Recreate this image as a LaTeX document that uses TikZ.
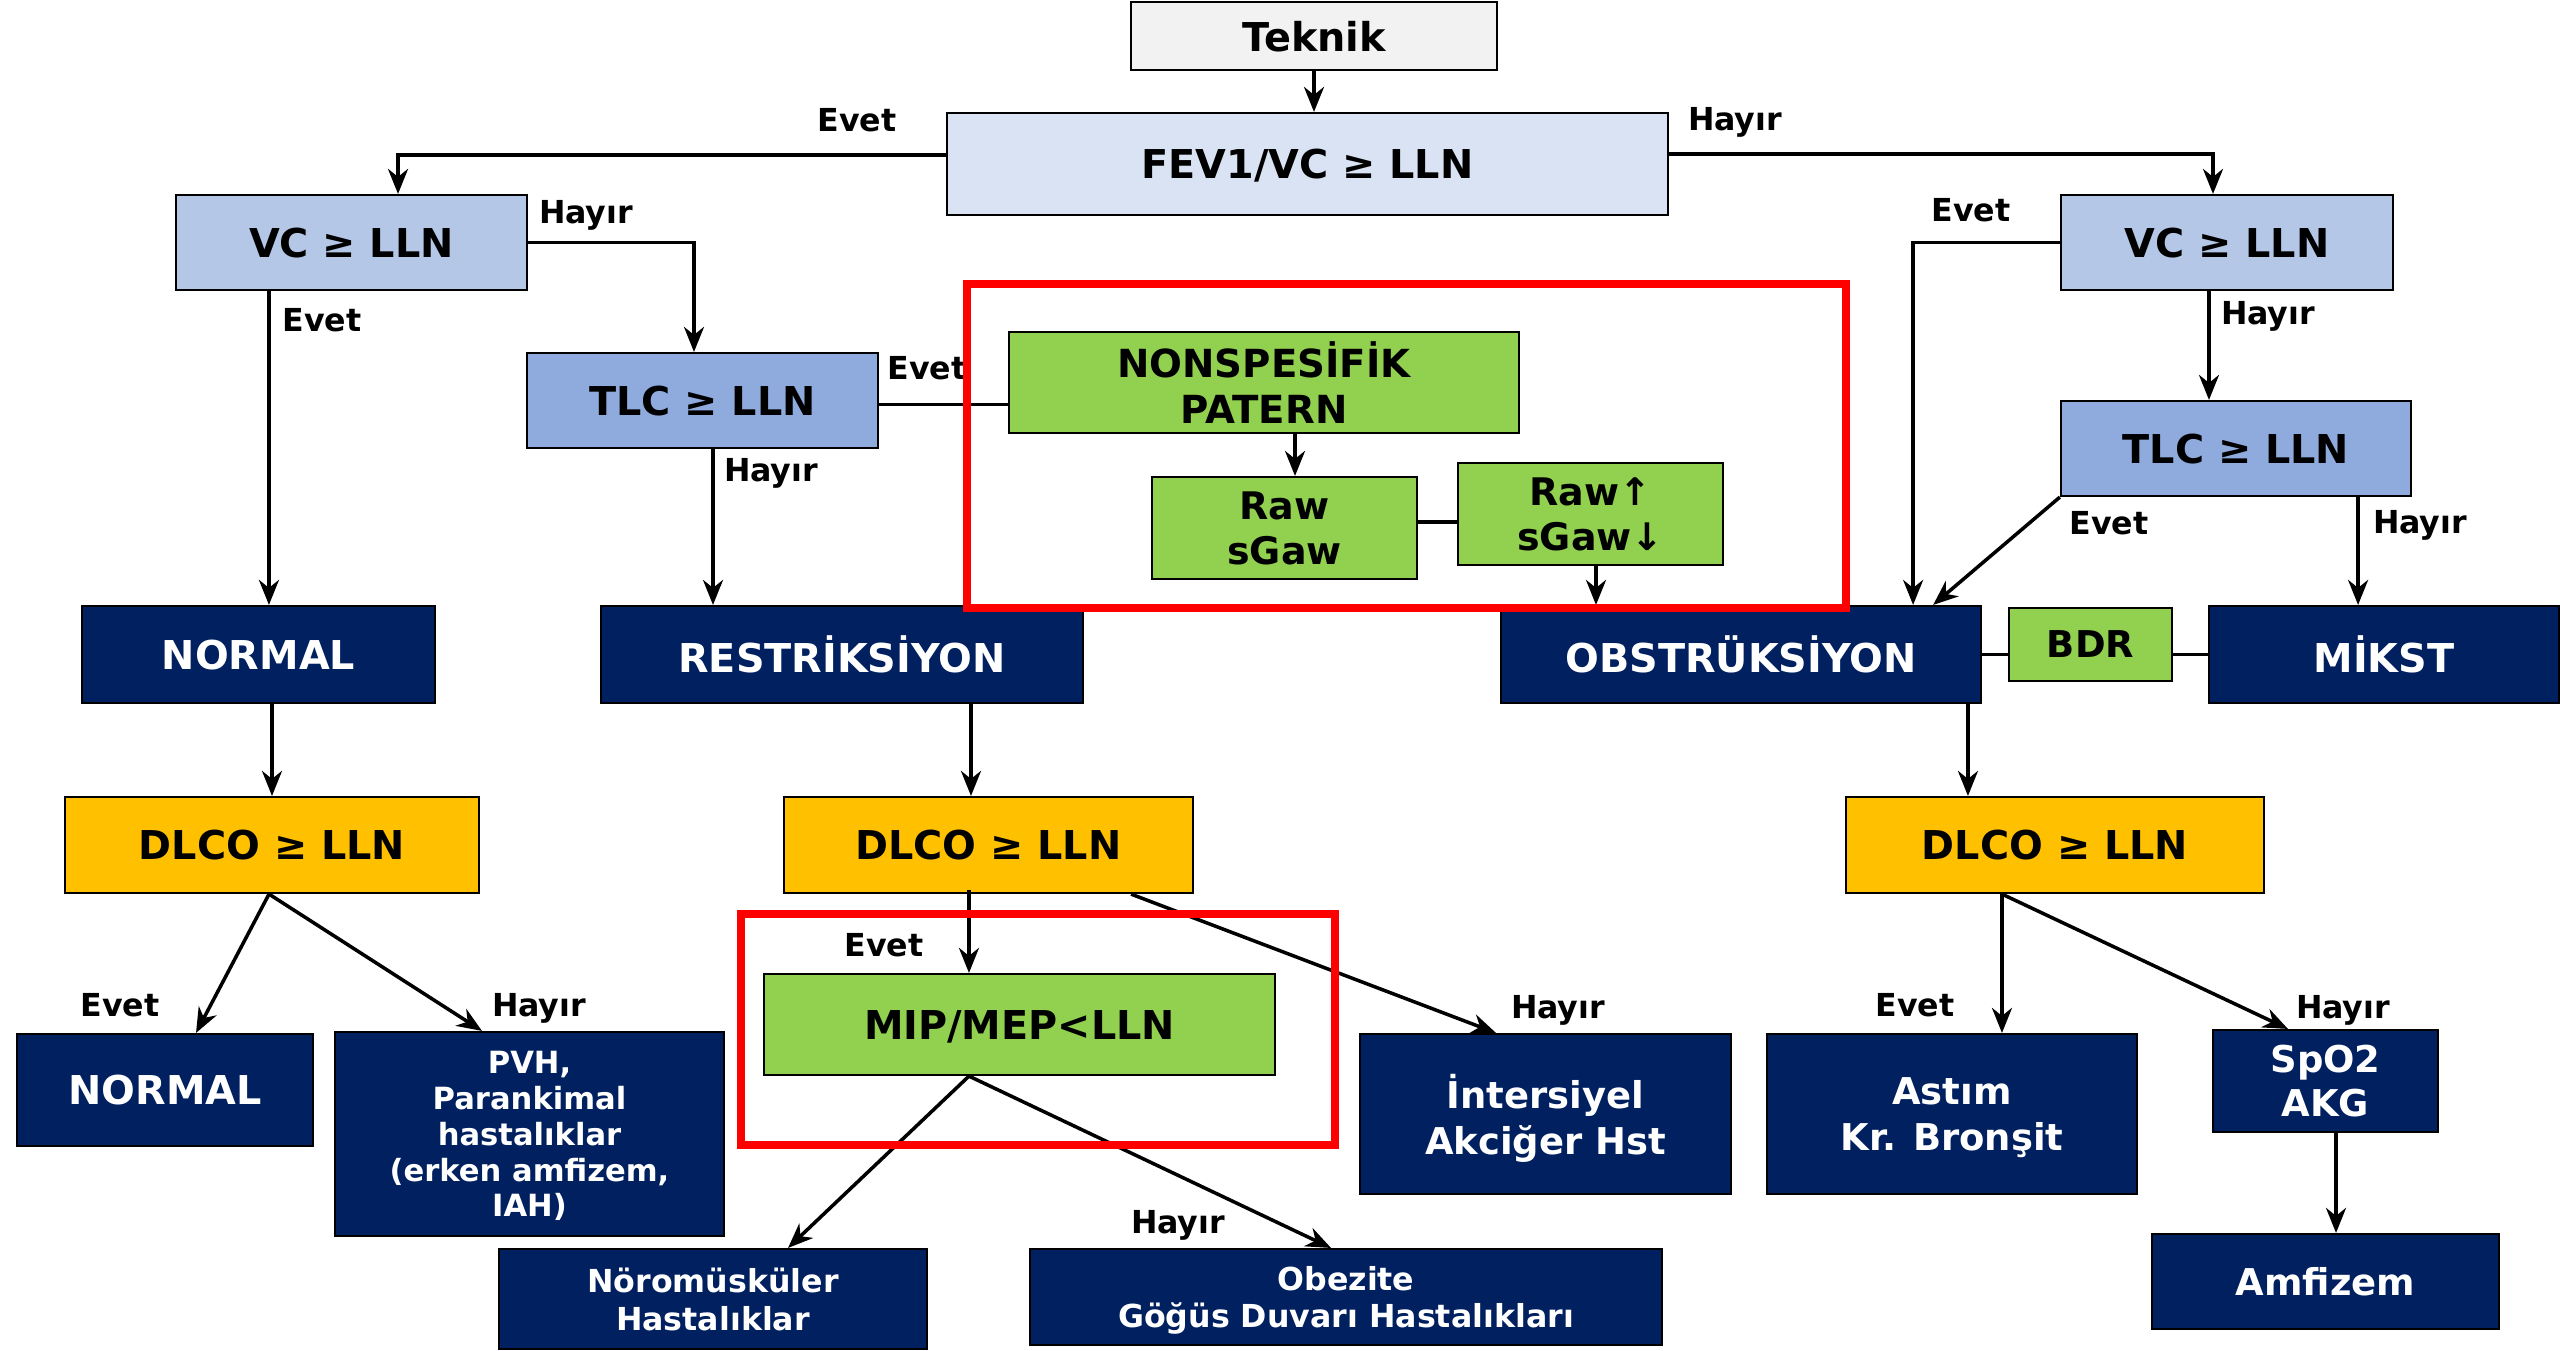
\documentclass[tikz,border=0pt]{standalone}
\usepackage{fontspec}
\setmainfont{DejaVu Sans}
\usetikzlibrary{arrows.meta}
\definecolor{teknikgray}{HTML}{F2F2F2}
\definecolor{fevblue}{HTML}{DAE3F3}
\definecolor{vcblue}{HTML}{B4C7E7}
\definecolor{tlcblue}{HTML}{8FAADC}
\definecolor{patgreen}{HTML}{92D050}
\definecolor{dlcoyellow}{HTML}{FFC000}
\definecolor{navy}{HTML}{002060}

\tikzset{
  box/.style={draw=black, line width=0.6pt, inner sep=0pt, align=center, text depth=0pt,
    font=\bfseries\fontsize{11.3}{13.5}\selectfont},
  wh/.style 2 args={minimum width=#1, minimum height=#2},
  navybox/.style={box, fill=navy, text=white},
  lbl/.style={inner sep=0pt, font=\bfseries\fontsize{9}{10}\selectfont},
  arr/.style={line width=1pt, -{Stealth[length=.25cm, width=.2cm, inset=.08cm]}},
  ln/.style={line width=1pt},
  redbox/.style={draw=red, line width=2.2pt}
}

\begin{document}
\begin{tikzpicture}[x=0.01cm, y=-0.01cm]
  \useasboundingbox (0,0) rectangle (2560,1350);

  \node[box, fill=teknikgray, wh={3.66cm}{.68cm}] (teknik) at (1314,36) {Teknik};
  \node[box, fill=fevblue, wh={7.21cm}{1.02cm}] (fev) at (1307.5,164) {FEV1/VC ≥ LLN};

  \node[box, fill=vcblue, wh={3.51cm}{.95cm}] (vcl) at (351.5,242.5) {VC ≥ LLN};
  \node[box, fill=vcblue, wh={3.32cm}{.95cm}] (vcr) at (2227,242.5) {VC ≥ LLN};
  \node[box, fill=tlcblue, wh={3.51cm}{.95cm}] (tlcl) at (702.5,400.5) {TLC ≥ LLN};
  \node[box, fill=tlcblue, wh={3.5cm}{.95cm}] (tlcr) at (2236,448.5) {TLC ≥ LLN};

  \node[box, fill=patgreen, wh={5.1cm}{1.01cm}, font=\bfseries\fontsize{11}{13}\selectfont] (nonsp) at (1264,382.5) {NONSPESİFİK\\PATERN};
  \node[box, fill=patgreen, wh={2.65cm}{1.02cm}, font=\bfseries\fontsize{10.8}{12.6}\selectfont] (raw) at (1284.5,528) {Raw\\sGaw};
  \node[box, fill=patgreen, wh={2.65cm}{1.02cm}, font=\bfseries\fontsize{10.8}{12.6}\selectfont] (rawup) at (1590.5,514) {Raw↑\\sGaw↓};

  \node[navybox, wh={3.53cm}{.97cm}] (normala) at (258.5,654.5) {NORMAL};
  \node[navybox, wh={4.82cm}{.97cm}] (restr) at (842,654.5) {RESTRİKSİYON};
  \node[navybox, wh={4.8cm}{.97cm}] (obstr) at (1741,654.5) {OBSTRÜKSİYON};
  \node[box, fill=patgreen, wh={1.63cm}{.73cm}, font=\bfseries\fontsize{10.5}{12}\selectfont] (bdr) at (2090.5,644.5) {BDR};
  \node[navybox, wh={3.5cm}{.97cm}] (mikst) at (2384,654.5) {MİKST};

  \node[box, fill=dlcoyellow, wh={4.14cm}{.96cm}] (dlcol) at (272,845) {DLCO ≥ LLN};
  \node[box, fill=dlcoyellow, wh={4.09cm}{.96cm}] (dlcom) at (988.5,845) {DLCO ≥ LLN};
  \node[box, fill=dlcoyellow, wh={4.18cm}{.96cm}] (dlcor) at (2055,845) {DLCO ≥ LLN};

  \node[navybox, wh={2.96cm}{1.12cm}] (normalb) at (165,1090) {NORMAL};
  \node[navybox, wh={3.89cm}{2.04cm}, font=\bfseries\fontsize{8.7}{10.2}\selectfont] (pvh) at (529.5,1134) {PVH,\\Parankimal\\hastalıklar\\(erken amfizem,\\IAH)};
  \node[box, fill=patgreen, wh={5.11cm}{1.01cm}] (mip) at (1019.5,1024.5) {MIP/MEP<LLN};
  \node[navybox, wh={3.71cm}{1.6cm}, font=\bfseries\fontsize{10.5}{13}\selectfont] (inters) at (1545.5,1114) {İntersiyel\\Akciğer Hst};
  \node[navybox, wh={3.7cm}{1.6cm}, font=\bfseries\fontsize{10.5}{13}\selectfont] (astim) at (1952,1114) {Astım\\Kr. Bronşit};
  \node[navybox, wh={2.25cm}{1.02cm}, font=\bfseries\fontsize{10.5}{12.5}\selectfont] (spo) at (2325.5,1081) {SpO2\\AKG};
  \node[navybox, wh={3.47cm}{.95cm}, font=\bfseries\fontsize{10.5}{12.5}\selectfont] (amfi) at (2325.5,1281.5) {Amfizem};
  \node[navybox, wh={4.28cm}{1cm}, font=\bfseries\fontsize{9}{10.7}\selectfont] (noro) at (713,1299) {Nöromüsküler\\Hastalıklar};
  \node[navybox, wh={6.32cm}{.96cm}, font=\bfseries\fontsize{9}{10.7}\selectfont] (obez) at (1346,1297) {Obezite\\Göğüs Duvarı Hastalıkları};

  \coordinate (vclin) at ([xshift=.465cm]vcl.north);
  \coordinate (vcrin) at ([xshift=-.14cm]vcr.north);
  \coordinate (tlclin) at ([xshift=-.085cm]tlcl.north);
  \coordinate (vclout) at ([xshift=-.825cm]vcl.south);
  \coordinate (tlclout) at ([xshift=.105cm]tlcl.south);
  \coordinate (rawin) at ([xshift=.105cm]raw.north);
  \coordinate (rawupout) at ([xshift=.055cm]rawup.south);
  \coordinate (obstrin) at ([xshift=1.72cm]obstr.north);
  \coordinate (vcrout) at ([xshift=-.18cm]vcr.south);
  \coordinate (tlcrout) at ([xshift=1.22cm]tlcr.south);
  \coordinate (dlcomin) at ([xshift=-.175cm]dlcom.north);
  \coordinate (dlcorin) at ([xshift=-.87cm]dlcor.north);
  \coordinate (dlcolout) at ([xshift=-.03cm]dlcol.south);
  \coordinate (mipin) at ([xshift=-.505cm]mip.north);
  \coordinate (mipout) at ([xshift=-.505cm]mip.south);
  \coordinate (dlcorout) at ([xshift=-.53cm]dlcor.south);
  \coordinate (spoout) at ([xshift=.105cm]spo.south);

  \draw[arr] (teknik.south) -- (teknik.south |- fev.north);
  \draw[arr] ([yshift=.09cm]fev.west) -| (vclin);
  \draw[arr] ([yshift=.1cm]fev.east) -| (vcrin);
  \draw[arr] (vcl.east) -| (tlclin);
  \draw[arr] (vclout) -- (vclout |- normala.north);
  \draw[ln] ([yshift=-.04cm]tlcl.east) -- ([yshift=-.04cm]tlcl.east -| nonsp.west);
  \draw[arr] (tlclout) -- (tlclout |- restr.north);
  \draw[arr] (rawin |- nonsp.south) -- (rawin);
  \draw[ln] ([yshift=.06cm]raw.east) -- ([yshift=.06cm]raw.east -| rawup.west);
  \draw[arr] (rawupout) -- (rawupout |- obstr.north);
  \draw[arr] (vcr.west) -| (obstrin);
  \draw[arr] (vcrout) -- (vcrout |- tlcr.north);
  \draw[arr] (tlcr.south west) -- ([xshift=1.92cm]obstr.north);
  \draw[arr] (tlcrout) -- (tlcrout |- mikst.north);
  \draw[ln] (obstr.east) -- (obstr.east -| bdr.west);
  \draw[ln] (mikst.west) -- (mikst.west -| bdr.east);

  \draw[arr] (normala.south -| dlcol.north) -- (dlcol.north);
  \draw[arr] (restr.south -| dlcomin) -- (dlcomin);
  \draw[arr] (obstr.south -| dlcorin) -- (dlcorin);
  \draw[arr] (dlcolout) -- ([xshift=.31cm]normalb.north);
  \draw[arr] (dlcolout) -- ([xshift=-.475cm]pvh.north);
  \draw[arr] ([yshift=.04cm]dlcom.south -| mipin) -- (mipin);
  \draw[arr] ([xshift=1.425cm]dlcom.south) -- ([xshift=-.495cm]inters.north);
  \draw[arr] (mipout) -- ([xshift=.75cm]noro.north);
  \draw[arr] (mipout) -- ([xshift=-.15cm]obez.north);
  \draw[arr] (dlcorout) -- (dlcorout |- astim.north);
  \draw[arr] (dlcorout) -- ([xshift=-.375cm]spo.north);
  \draw[arr] (spoout) -- (spoout |- amfi.north);

  \node[lbl] (evfev) at (857,120) {Evet};
  \node[lbl] (hyfev) at (1735,122) {Hayır};
  \node[lbl] (hyvcl) at (586,215) {Hayır};
  \node[lbl] (evvcl) at (322,320) {Evet};
  \node[lbl] (evtlcl) at (927,368) {Evet};
  \node[lbl] (hytlcl) at (771,473) {Hayır};
  \node[lbl] (evvcr) at (1971,210) {Evet};
  \node[lbl] (hyvcr) at (2268,316) {Hayır};
  \node[lbl] (evtlcr) at (2109,523) {Evet};
  \node[lbl] (hytlcr) at (2420,525) {Hayır};
  \node[lbl] (evdlcol) at (120,1005) {Evet};
  \node[lbl] (hydlcol) at (539,1008) {Hayır};
  \node[lbl] (evdlcom) at (884,945) {Evet};
  \node[lbl] (hydlcom) at (1558,1010) {Hayır};
  \node[lbl] (hymip) at (1178,1225) {Hayır};
  \node[lbl] (evdlcor) at (1915,1005) {Evet};
  \node[lbl] (hydlcor) at (2343,1010) {Hayır};

  \draw[redbox] (967,284) rectangle (1846,608);
  \draw[redbox] (741,914) rectangle (1335,1145);
\end{tikzpicture}
\end{document}
